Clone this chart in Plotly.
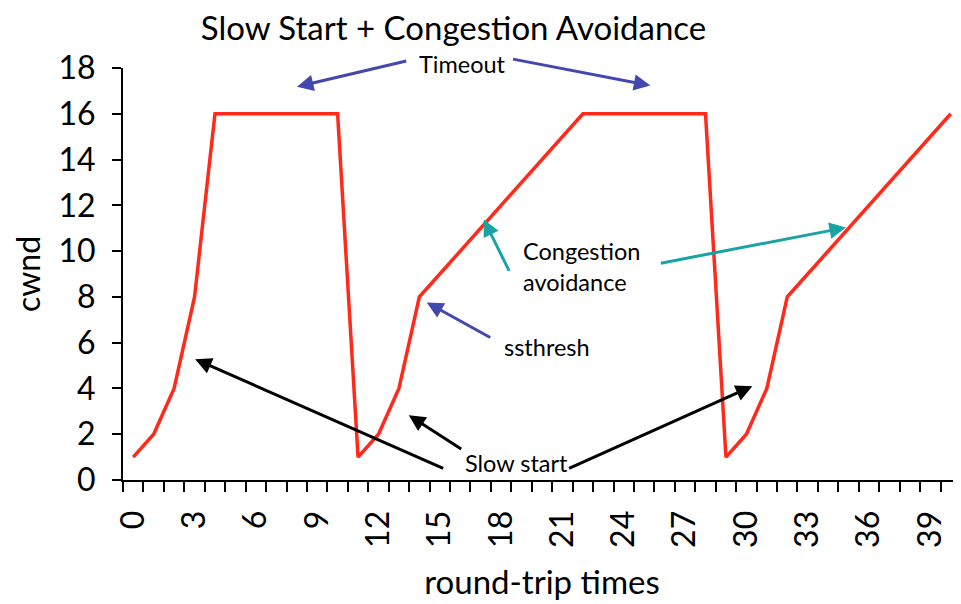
import numpy as np
import plotly.graph_objects as go

# data
rtt = list(range(0, 41))
cwnd = [1, 2, 4, 8, 16, 16, 16, 16, 16, 16, 16,
        1, 2, 4, 8, 9, 10, 11, 12, 13, 14, 15, 16, 16, 16, 16, 16, 16, 16,
        1, 2, 4, 8, 9, 10, 11, 12, 13, 14, 15, 16]
x_tickvals = list(range(0, 40, 3))
y_tickvals = list(range(0, 19, 2))

FONT = "Lato"
BLUE = "#4347AE"
TEAL = "#19A3A3"
RED = "#FF2A1A"

fig = go.Figure()
fig.add_trace(go.Scatter(x=rtt, y=cwnd, mode="lines",
                         line=dict(color=RED, width=3.5), showlegend=False,
                         cliponaxis=False))

def arrow(x, y, ax, ay, color):
    return dict(x=x, y=y, ax=ax, ay=ay, xref="x", yref="y", axref="x", ayref="y",
                text="", showarrow=True, arrowhead=2, arrowsize=1.1,
                arrowwidth=3, arrowcolor=color, standoff=0, startstandoff=0)

ANN_SIZE = 23.5
annotations = [
    # Timeout
    dict(x=16.1, y=1 + 4 / 412, xref="x", yref="paper", text="Timeout", showarrow=False,
         yanchor="middle", font=dict(size=ANN_SIZE, color="black", family=FONT)),
    arrow(8.01, 17.18, 13.43, 18.32, BLUE),
    arrow(25.30, 17.23, 18.51, 18.40, BLUE),
    # Congestion avoidance
    dict(x=18.95, y=9.33, xref="x", yref="y", text="Congestion<br>avoidance",
         showarrow=False, xanchor="left", align="left",
         font=dict(size=ANN_SIZE, color="black", family=FONT)),
    arrow(17.15, 11.38, 18.43, 9.07, TEAL),
    arrow(34.87, 11.03, 25.74, 9.46, TEAL),
    # ssthresh
    dict(x=18.05, y=5.80, xref="x", yref="y", text="ssthresh", showarrow=False,
         xanchor="left", font=dict(size=ANN_SIZE, color="black", family=FONT)),
    arrow(14.36, 7.76, 17.54, 6.19, BLUE),
    # Slow start
    dict(x=16.15, y=0.74, xref="x", yref="y", text="Slow start", showarrow=False,
         xanchor="left", font=dict(size=ANN_SIZE, color="black", family=FONT)),
    arrow(3.03, 5.28, 15.24, 0.48, "black"),
    arrow(13.48, 2.83, 16.12, 1.31, "black"),
    arrow(30.29, 4.10, 21.25, 0.48, "black"),
]

# page body has an 8px margin, so the figure is 8px smaller and margins shifted
fig.update_layout(
    width=953, height=596,
    margin=dict(l=115, r=0, t=60, b=124, autoexpand=False),
    plot_bgcolor="white", paper_bgcolor="white",
    font=dict(family=FONT, color="black", size=32),
    title=dict(text="Slow Start + Congestion Avoidance", x=0.4675, xanchor="center",
               y=1 - 20 / 596, yanchor="middle", yref="container", automargin=False,
               font=dict(size=33, family=FONT)),
    annotations=annotations,
    showlegend=False,
)

fig.update_xaxes(
    range=[-0.5, 40.5], tickmode="array", tickvals=x_tickvals,
    ticktext=[str(v) for v in x_tickvals], tickangle=-90,
    ticks="outside", ticklen=0, ticklabelstandoff=16, automargin=False,
    showline=True, linecolor="black", linewidth=2, showgrid=False, zeroline=False,
    minor=dict(tickmode="array", tickvals=list(np.arange(-0.5, 41, 1.0)),
               ticks="outside", ticklen=10, tickwidth=2, tickcolor="black",
               showgrid=False),
    tickfont=dict(size=32, family=FONT),
    title=dict(text="round-trip times", font=dict(size=33, family=FONT), standoff=24),
)
fig.update_yaxes(
    range=[0, 18], tickmode="array", tickvals=y_tickvals,
    ticks="outside", ticklen=9, tickwidth=2, tickcolor="black",
    ticklabelstandoff=10, automargin=False,
    showline=True, linecolor="black", linewidth=2, showgrid=False, zeroline=False,
    tickfont=dict(size=32, family=FONT),
    title=dict(text="cwnd", font=dict(size=32, family=FONT), standoff=20),
)

fig.write_html("out.html")
